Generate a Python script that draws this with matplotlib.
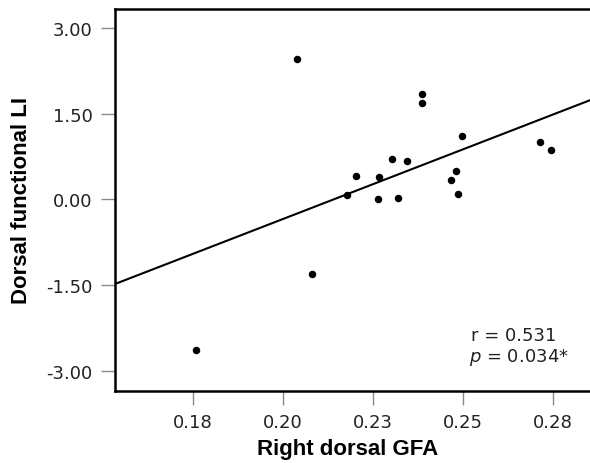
import numpy as np
import matplotlib
matplotlib.use("Agg")
import matplotlib.pyplot as plt

# Data
gfa = [0.2039, 0.2387, 0.2386, 0.2498, 0.2713, 0.2744, 0.2304, 0.2345, 0.2204,
       0.2267, 0.2480, 0.2467, 0.2178, 0.2265, 0.2319, 0.2485, 0.1757, 0.2080]
li = [2.463, 1.838, 1.687, 1.110, 1.005, 0.870, 0.700, 0.677, 0.403,
      0.392, 0.497, 0.340, 0.070, 0.012, 0.030, 0.088, -2.625, -1.300]
x_ticks = [0.175, 0.200, 0.225, 0.250, 0.275]
x_ticklabels = ["0.18", "0.20", "0.23", "0.25", "0.28"]
y_ticks = [-3.0, -1.5, 0.0, 1.5, 3.0]
y_ticklabels = ["-3.00", "-1.50", "0.00", "1.50", "3.00"]
stats_r = "r = 0.531"
stats_p = r"$\it{p}$ = 0.034*"

fig = plt.figure(figsize=(5.9, 4.64), dpi=100)
ax = fig.add_axes([115 / 590, 72 / 464, 1 - 115 / 590, (392 - 10) / 464])

xlim = (0.1533, 0.2853)
ylim = (-3.35, 3.33)
ax.set_xlim(*xlim)
ax.set_ylim(*ylim)

ax.plot(gfa, li, "o", color="black", markersize=5.4, markeredgewidth=0, zorder=3)

slope, intercept = np.polyfit(gfa, li, 1)
xl = np.array(xlim)
ax.plot(xl, slope * xl + intercept, color="black", lw=1.5, zorder=2)

for s in ["left", "bottom", "top"]:
    ax.spines[s].set_linewidth(1.8)
    ax.spines[s].set_color("black")
ax.spines["right"].set_visible(False)

ax.set_xticks(x_ticks)
ax.set_xticklabels(x_ticklabels)
ax.set_yticks(y_ticks)
ax.set_yticklabels(y_ticklabels)
ax.tick_params(axis="both", which="major", length=10, width=1.0, color="#8a8a8a",
               labelsize=13, labelcolor="#222222", pad=6, direction="out")
for lab in ax.get_xticklabels() + ax.get_yticklabels():
    lab.set_family("DejaVu Sans")

ax.set_xlabel("Right dorsal GFA", fontsize=16, fontweight="bold",
              family="Liberation Sans")
ax.set_ylabel("Dorsal functional LI", fontsize=16, fontweight="bold",
              family="Liberation Sans")
ax.xaxis.set_label_coords((348 - 115) / 475, -(450 - 392) / 382)
ax.yaxis.set_label_coords(-(115 - 22) / 475, 0.5)
ax.xaxis.label.set_va("center")
ax.yaxis.label.set_va("center")

fig.text(471 / 590, 1 - 341 / 464, stats_r, fontsize=13, color="#222222",
         ha="left", va="baseline", family="DejaVu Sans")
fig.text(469 / 590, 1 - 362 / 464, stats_p, fontsize=13, color="#222222",
         ha="left", va="baseline", family="DejaVu Sans")

fig.savefig("out.png", dpi=100)
